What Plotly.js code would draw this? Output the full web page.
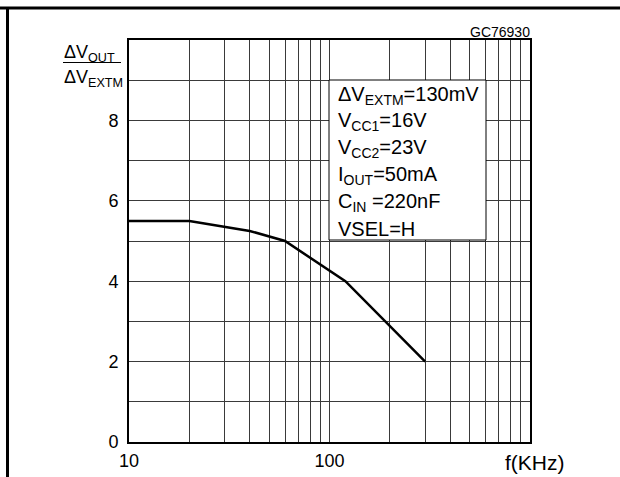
<!DOCTYPE html>
<html>
<head>
<meta charset="utf-8">
<script src="https://cdn.plot.ly/plotly-3.0.1.min.js"></script>
<style>
  html, body { margin: 0; padding: 0; background: #fff; }
  #chart { width: 620px; height: 477px; }
</style>
</head>
<body>
<div id="chart"></div>
<script>
// ---- data ----
const freqKHz = [10, 20, 40, 60, 120, 300];
const ratio   = [5.5, 5.5, 5.25, 5.0, 4.0, 2.0];

const xMajorVals = [10, 100];
const xMajorLabels = ["10", "100"];
const xMinorVals = [20,30,40,50,60,70,80,90,200,300,400,500,600,700,800,900,1000];
const yMajorVals = [0, 2, 4, 6, 8];
const yMajorLabels = ["0", "2", "4", "6", "8"];
const yMinorVals = [1, 3, 5, 7, 9, 10];

const conditionLines = [
  "ΔV<sub>EXTM</sub>=130mV",
  "V<sub>CC1</sub>=16V",
  "V<sub>CC2</sub>=23V",
  "I<sub>OUT</sub>=50mA",
  "C<sub>IN</sub> =220nF",
  "VSEL=H"
];
const figCode = "GC76930";
const xUnitLabel = "f(KHz)";
const yNumLabel = "ΔV<sub>OUT</sub>";
const yDenLabel = "ΔV<sub>EXTM</sub>";

// ---- layout geometry (pixels) ----
const W = 620, H = 477;
const M = {l: 129, r: 90, t: 40, b: 35};
const PW = W - M.l - M.r, PH = H - M.t - M.b;
const px = x => (x - M.l) / PW;           // pixel x -> paper
const py = y => (H - M.b - y) / PH;       // pixel y -> paper

const FONT = "Liberation Sans, Arial, sans-serif";
const GRID = '#3a3a3a';

const annotations = [];
conditionLines.forEach((t, i) => {
  annotations.push({
    xref: 'paper', yref: 'paper', x: px(336), y: py(95 + i * 26.8),
    xanchor: 'left', yanchor: 'middle', showarrow: false,
    text: t, font: {family: FONT, size: 20, color: '#000'}
  });
});
annotations.push({
  xref: 'paper', yref: 'paper', x: px(532), y: py(32),
  xanchor: 'right', yanchor: 'middle', showarrow: false,
  text: figCode, font: {family: FONT, size: 14, color: '#000'}
});
annotations.push({
  xref: 'paper', yref: 'paper', x: px(535), y: py(462),
  xanchor: 'center', yanchor: 'middle', showarrow: false,
  text: xUnitLabel, font: {family: FONT, size: 21, color: '#000'}
});
annotations.push({
  xref: 'paper', yref: 'paper', x: px(62), y: py(53),
  xanchor: 'left', yanchor: 'middle', showarrow: false,
  text: yNumLabel, font: {family: FONT, size: 18, color: '#000'}
});
annotations.push({
  xref: 'paper', yref: 'paper', x: px(62), y: py(78),
  xanchor: 'left', yanchor: 'middle', showarrow: false,
  text: yDenLabel, font: {family: FONT, size: 18, color: '#000'}
});

const shapes = [
  // conditions box
  {type: 'rect', xref: 'paper', yref: 'paper', layer: 'above',
   x0: px(329), x1: px(486), y0: py(240), y1: py(80),
   fillcolor: '#fff', line: {color: '#000', width: 1}},
  // fraction bar
  {type: 'line', xref: 'paper', yref: 'paper',
   x0: px(63), x1: px(121), y0: py(62.5), y1: py(62.5),
   line: {color: '#000', width: 1}},
  // outer frame (top + left)
  {type: 'line', xref: 'paper', yref: 'paper',
   x0: px(0), x1: px(620), y0: py(8), y1: py(8),
   line: {color: '#000', width: 3}},
  {type: 'line', xref: 'paper', yref: 'paper',
   x0: px(7.5), x1: px(7.5), y0: py(8), y1: py(480),
   line: {color: '#000', width: 3}}
];

const trace = {
  x: freqKHz, y: ratio, type: 'scatter', mode: 'lines',
  line: {color: '#000', width: 2.5}, hoverinfo: 'skip'
};

const layout = {
  width: W, height: H,
  margin: M,
  paper_bgcolor: '#fff', plot_bgcolor: '#fff',
  showlegend: false,
  font: {family: FONT, size: 18, color: '#000'},
  xaxis: {
    type: 'log', range: [1, 3], tickmode: 'array',
    tickvals: xMajorVals, ticktext: xMajorLabels,
    showgrid: true, gridcolor: GRID, gridwidth: 1,
    minor: {tickmode: 'array', tickvals: xMinorVals, showgrid: true,
            gridcolor: GRID, gridwidth: 1, ticks: ''},
    showline: true, linecolor: '#000', linewidth: 2, mirror: true,
    ticks: '', zeroline: false, ticklabelstandoff: 1,
    tickfont: {family: FONT, size: 18, color: '#000'},
    fixedrange: true
  },
  yaxis: {
    range: [0, 10], tickmode: 'array',
    tickvals: yMajorVals, ticktext: yMajorLabels,
    showgrid: true, gridcolor: GRID, gridwidth: 1,
    minor: {tickmode: 'array', tickvals: yMinorVals, showgrid: true,
            gridcolor: GRID, gridwidth: 1, ticks: ''},
    showline: true, linecolor: '#000', linewidth: 2, mirror: true,
    ticks: '', zeroline: false, ticklabelstandoff: 5,
    tickfont: {family: FONT, size: 18, color: '#000'},
    fixedrange: true
  },
  annotations: annotations,
  shapes: shapes
};

Plotly.newPlot('chart', [trace], layout, {displayModeBar: false, staticPlot: true});
</script>
</body>
</html>
